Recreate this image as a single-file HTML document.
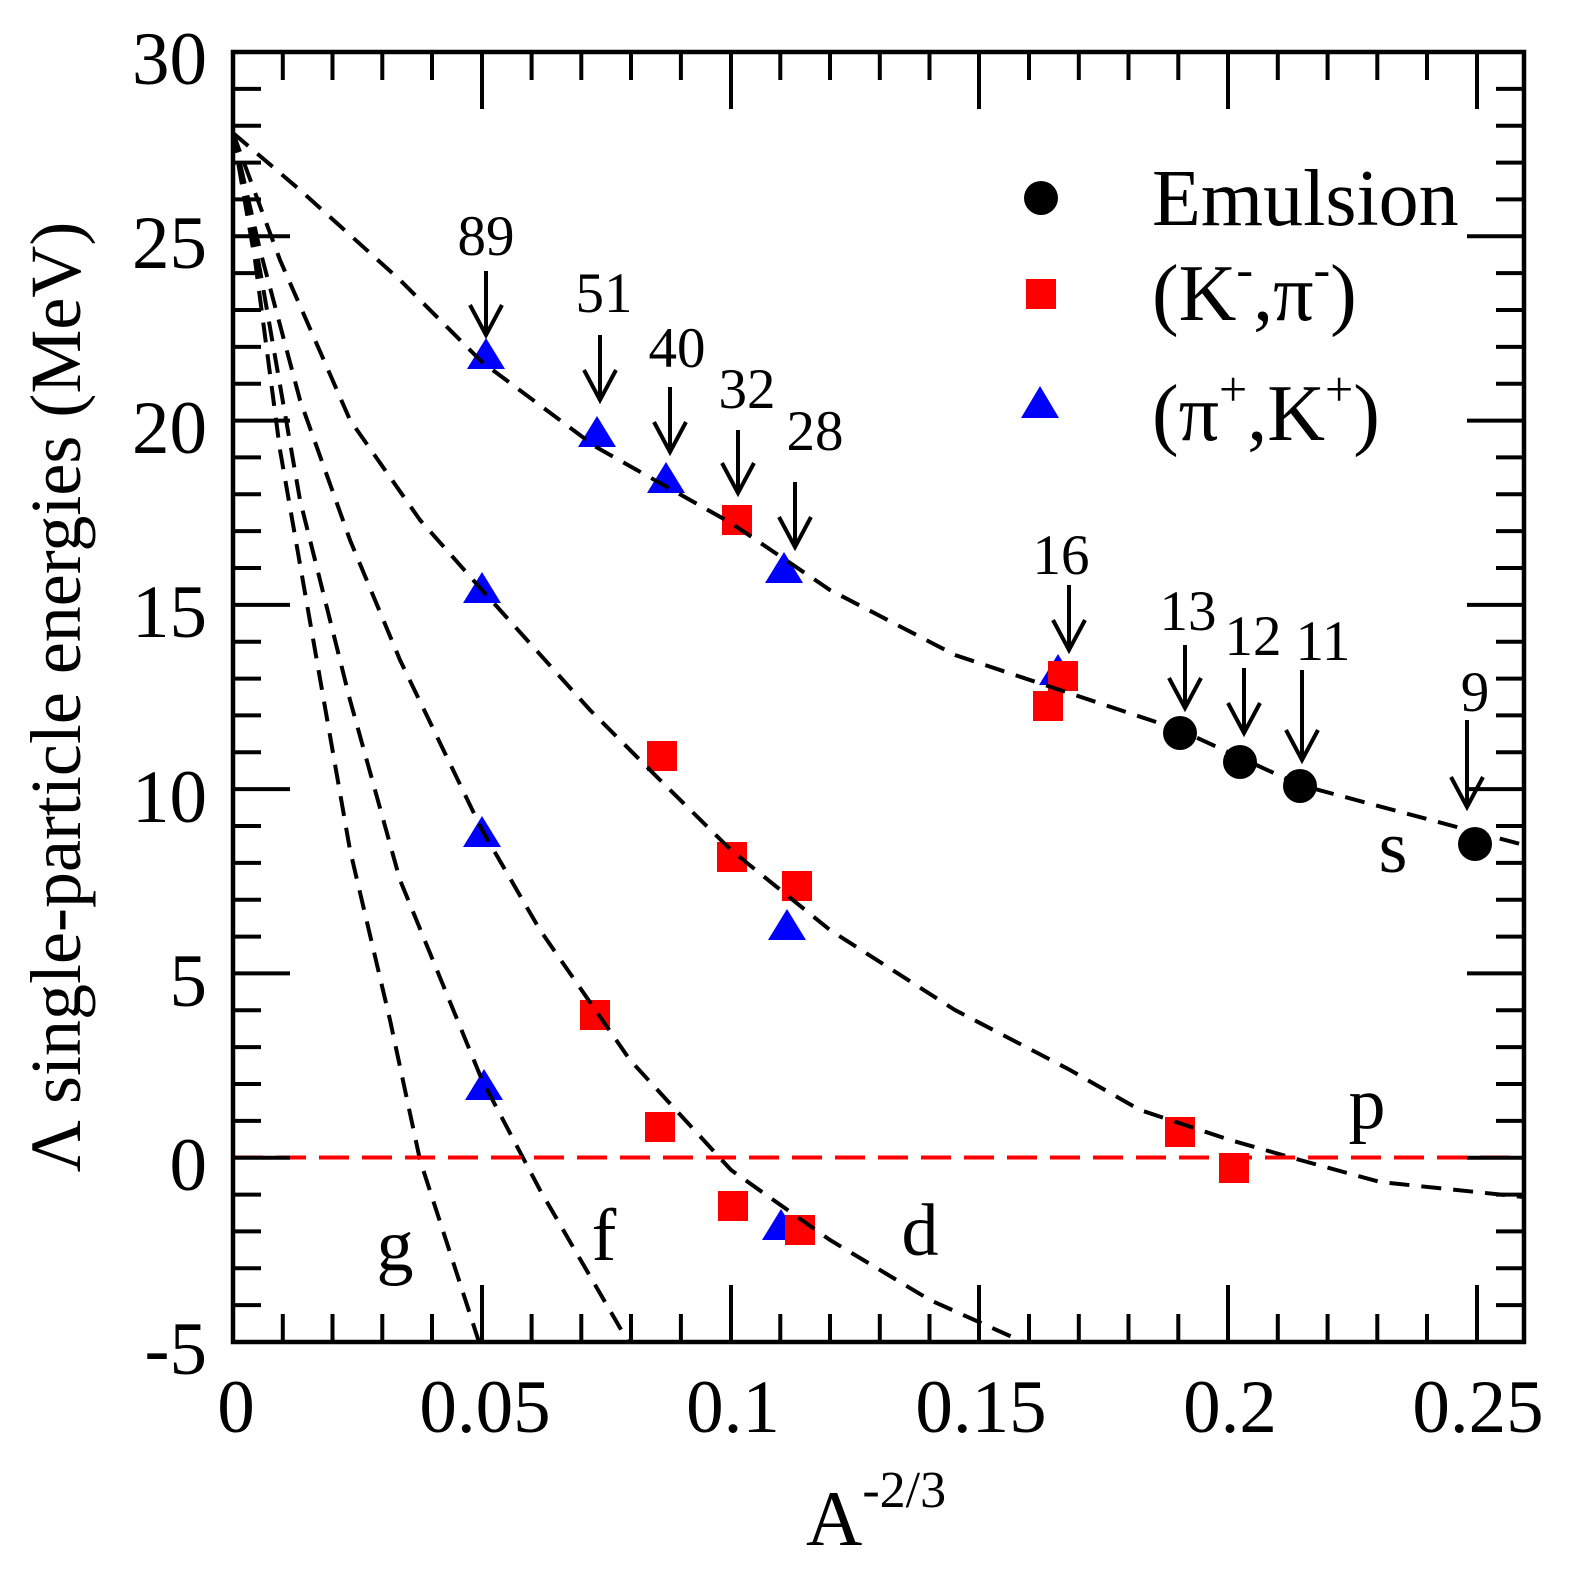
<!DOCTYPE html>
<html><head><meta charset="utf-8"><style>html,body{margin:0;padding:0;background:#fff}svg{display:block}</style></head>
<body>
<svg width="1574" height="1574" viewBox="0 0 1574 1574" xmlns="http://www.w3.org/2000/svg" font-family="Liberation Serif, serif">
<defs>
<clipPath id="c"><rect x="233" y="52" width="1291" height="1290"/></clipPath>
</defs>
<g fill="#00f">
<polygon points="486,338 505,369 467,369"/><polygon points="597,416 616,447 578,447"/><polygon points="666,462 685,493 647,493"/><polygon points="784,552 803,583 765,583"/><polygon points="482,572 501,603 463,603"/><polygon points="482,816 501,847 463,847"/><polygon points="787,909 806,940 768,940"/><polygon points="484,1069 503,1100 465,1100"/><polygon points="781,1209 800,1240 762,1240"/><polygon points="1058,654 1077,685 1039,685"/>
<polygon points="1040,386 1059,418 1021,418"/>
</g>
<g fill="#f00">
<rect x="722" y="505" width="30" height="30"/><rect x="1048" y="661" width="30" height="30"/><rect x="1033" y="691" width="30" height="30"/><rect x="647" y="741" width="30" height="30"/><rect x="717" y="842" width="30" height="30"/><rect x="782" y="871" width="30" height="30"/><rect x="580" y="1000" width="30" height="30"/><rect x="645" y="1112" width="30" height="30"/><rect x="718" y="1191" width="30" height="30"/><rect x="785" y="1215" width="30" height="30"/><rect x="1165" y="1117" width="30" height="30"/><rect x="1219" y="1153" width="30" height="30"/>
<rect x="1026" y="279" width="30" height="30"/>
</g>
<g fill="#000">
<circle cx="1180" cy="733" r="17"/><circle cx="1240" cy="762" r="17"/><circle cx="1300" cy="786" r="17"/><circle cx="1475" cy="844" r="17"/><circle cx="1041" cy="198" r="17"/>
</g>
<g clip-path="url(#c)" fill="none" stroke="#000" stroke-width="4" stroke-dasharray="20,12">
<polyline points="233,133 300,190 400,280 482,362 596,447 731,523 830,590 955,655 1060,690 1180,730 1300,785 1524,845"/>
<polyline points="233,133 280,260 350,420 420,520 482,590 590,710 660,780 731,850 830,930 955,1010 1070,1070 1140,1110 1230,1140 1300,1160 1380,1182 1524,1197"/>
<polyline points="233,133 260,250 300,400 350,540 400,660 482,830 540,930 630,1060 731,1170 830,1240 930,1300 1030,1345"/>
<polyline points="233,133 260,270 300,500 350,700 400,880 482,1080 540,1190 630,1345"/>
<polyline points="233,133 255,260 280,450 315,650 350,850 390,1020 420,1160 480,1345"/>
</g>
<line x1="233" y1="1157.5" x2="1524" y2="1157.5" stroke="#f00" stroke-width="4" stroke-dasharray="30,13"/>
<rect x="233" y="52" width="1291" height="1290" fill="none" stroke="#000" stroke-width="4.5"/>
<g stroke="#000" stroke-width="4" fill="none">
<path d="M486,271V335M470,305L486,335L502,305"/>
<path d="M600,335V400M584,370L600,400L616,370"/>
<path d="M670,387V452M654,422L670,452L686,422"/>
<path d="M738,430V493M722,463L738,493L754,463"/>
<path d="M795,482V547M779,517L795,547L811,517"/>
<path d="M1069,585V650M1053,620L1069,650L1085,620"/>
<path d="M1185,645V708M1169,678L1185,708L1201,678"/>
<path d="M1244,668V733M1228,703L1244,733L1260,703"/>
<path d="M1302,670V760M1286,730L1302,760L1318,730"/>
<path d="M1467,720V807M1451,777L1467,807L1483,777"/>
</g>
<g font-size="57" text-anchor="middle" fill="#000">
<text x="486" y="255">89</text><text x="604" y="312">51</text><text x="677" y="367">40</text><text x="747" y="408">32</text><text x="815" y="450">28</text><text x="1061" y="574">16</text><text x="1188" y="630">13</text><text x="1253" y="655">12</text><text x="1323" y="660">11</text><text x="1475" y="711">9</text>
</g>
<g font-size="80" fill="#000">
<text x="1152" y="225">Emulsion</text>
<text x="1152" y="320">(K<tspan dy="-34" font-size="50">-</tspan><tspan dy="34">,π</tspan><tspan dy="-34" font-size="50">-</tspan><tspan dy="34">)</tspan></text>
<text x="1152" y="440">(π<tspan dy="-34" font-size="50">+</tspan><tspan dy="34">,K</tspan><tspan dy="-34" font-size="50">+</tspan><tspan dy="34">)</tspan></text>
</g>
<g font-size="74" text-anchor="middle" fill="#000">
<text x="1393" y="872">s</text><text x="1367" y="1128">p</text><text x="920" y="1255">d</text><text x="604" y="1260">f</text><text x="395" y="1270">g</text>
</g>
<g font-size="75" text-anchor="end" fill="#000">
<text x="207" y="84">30</text><text x="207" y="268">25</text><text x="207" y="453">20</text><text x="207" y="637">15</text><text x="207" y="822">10</text><text x="207" y="1006">5</text><text x="207" y="1190">0</text><text x="207" y="1374">-5</text>
</g>
<g font-size="75" text-anchor="middle" fill="#000">
<text x="236" y="1432">0</text><text x="485" y="1432">0.05</text><text x="733" y="1432">0.1</text><text x="981" y="1432">0.15</text><text x="1230" y="1432">0.2</text><text x="1478" y="1432">0.25</text>
</g>
<text x="806" y="1545" font-size="78" fill="#000">A<tspan dy="-38" font-size="52">-2/3</tspan></text>
<text transform="translate(80,697) rotate(-90)" font-size="72" text-anchor="middle" fill="#000">Λ single-particle energies (MeV)</text>
<g stroke="#000" stroke-width="4">
<path d="
M233,1342v-57M282.8,1342v-28M332.5,1342v-28M382.3,1342v-28M432,1342v-28M482,1342v-57M531.6,1342v-28M581.3,1342v-28M631,1342v-28M680.9,1342v-28M731,1342v-57M780.3,1342v-28M830,1342v-28M879.8,1342v-28M929.5,1342v-28M979,1342v-57M1029,1342v-28M1078.8,1342v-28M1128.5,1342v-28M1178.3,1342v-28M1228,1342v-57M1277.8,1342v-28M1327.6,1342v-28M1377.3,1342v-28M1427,1342v-28M1477,1342v-57
M233,52v57M282.8,52v28M332.5,52v28M382.3,52v28M432,52v28M482,52v57M531.6,52v28M581.3,52v28M631,52v28M680.9,52v28M731,52v57M780.3,52v28M830,52v28M879.8,52v28M929.5,52v28M979,52v57M1029,52v28M1078.8,52v28M1128.5,52v28M1178.3,52v28M1228,52v57M1277.8,52v28M1327.6,52v28M1377.3,52v28M1427,52v28M1477,52v57
"/>
<path d="
M233,52h57M233,88.9h28M233,125.7h28M233,162.6h28M233,199.4h28M233,236.3h57M233,273.1h28M233,310h28M233,346.9h28M233,383.7h28M233,420.6h57M233,457.4h28M233,494.3h28M233,531.1h28M233,568h28M233,604.9h57M233,641.7h28M233,678.6h28M233,715.4h28M233,752.3h28M233,789.1h57M233,826h28M233,862.9h28M233,899.7h28M233,936.6h28M233,973.4h57M233,1010.3h28M233,1047.1h28M233,1084h28M233,1120.9h28M233,1157.7h57M233,1194.6h28M233,1231.4h28M233,1268.3h28M233,1305.1h28
M1524,52h-57M1524,88.9h-28M1524,125.7h-28M1524,162.6h-28M1524,199.4h-28M1524,236.3h-57M1524,273.1h-28M1524,310h-28M1524,346.9h-28M1524,383.7h-28M1524,420.6h-57M1524,457.4h-28M1524,494.3h-28M1524,531.1h-28M1524,568h-28M1524,604.9h-57M1524,641.7h-28M1524,678.6h-28M1524,715.4h-28M1524,752.3h-28M1524,789.1h-57M1524,826h-28M1524,862.9h-28M1524,899.7h-28M1524,936.6h-28M1524,973.4h-57M1524,1010.3h-28M1524,1047.1h-28M1524,1084h-28M1524,1120.9h-28M1524,1157.7h-57M1524,1194.6h-28M1524,1231.4h-28M1524,1268.3h-28M1524,1305.1h-28
"/>
</g>
</svg>
</body></html>
